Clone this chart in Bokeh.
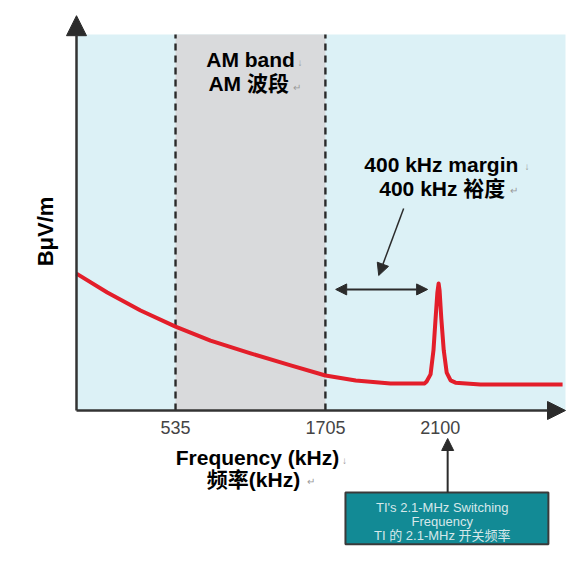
from bokeh.plotting import figure
from bokeh.models import Range1d, Label, Arrow, NormalHead
from bokeh.embed import file_html
from bokeh.resources import INLINE
from bokeh.core.properties import value

# ---- data (schematic units) ----
tick_khz = [535, 1705, 2100]
tick_pos = [20.25, 50.9, 74.4]
tick_labels = ["535", "1705", "2100"]

curve_x = [0, 6.3, 13.1, 20.25, 27.4, 35.6, 43.8, 50.9, 57.1, 64.2, 71.2,
           71.6, 72.4, 73.0, 73.4, 73.8, 74.05, 74.25, 74.6, 75.1, 75.7,
           76.5, 77.5, 82.6, 99.4]
curve_y = [36.4, 31.4, 26.6, 22.3, 18.6, 15.2, 12.0, 9.3, 8.0, 7.2, 7.2,
           7.7, 9.6, 16.0, 23.9, 31.4, 33.8, 31.9, 24.5, 16.0, 10.1,
           8.0, 7.4, 6.9, 6.9]

FONT = "Liberation Sans, Noto Sans CJK SC"
DARK = "#2b2b2b"

p = figure(width=570, height=546, output_backend="svg", toolbar_location=None,
           x_range=Range1d(-15.542, 101.02), y_range=Range1d(-36.17, 109.04),
           min_border_left=0, min_border_right=0, min_border_top=0,
           min_border_bottom=0)
p.xaxis.visible = False
p.yaxis.visible = False
p.background_fill_color = "white"
p.border_fill_color = "white"
p.outline_line_color = None
p.grid.grid_line_color = None

# plot area background and AM band
p.quad(left=[0], right=[100], bottom=[0], top=[100],
       fill_color="#dcf1f6", line_color=None)
p.quad(left=[tick_pos[0]], right=[tick_pos[1]], bottom=[0], top=[100],
       fill_color="#d9dadc", line_color=None)
p.segment(x0=tick_pos[:2], x1=tick_pos[:2], y0=[0, 0], y1=[100, 100],
          line_color="#2a2a2a", line_width=2.4, line_dash="7 5")

# emission curve
p.line(curve_x, curve_y, line_color="#e31e2a", line_width=4, line_join="round")

# tick labels on the frequency axis
p.text(x=tick_pos, y=[-4.5] * len(tick_pos), text=tick_labels,
       text_font=value("Liberation Sans"), text_font_size="18px",
       text_color="#444444", text_align="center", text_baseline="middle")

# axes with arrow heads
p.add_layout(Arrow(end=NormalHead(size=20, fill_color=DARK, line_color=DARK),
                   x_start=0, y_start=0, x_end=0, y_end=105.0,
                   line_width=2.5, line_color="#333333"))
p.add_layout(Arrow(end=NormalHead(size=18, fill_color=DARK, line_color=DARK),
                   x_start=0, y_start=0, x_end=100, y_end=0,
                   line_width=2.5, line_color="#333333"))

# margin double arrow
p.add_layout(Arrow(start=NormalHead(size=11, fill_color=DARK, line_color=DARK),
                   end=NormalHead(size=11, fill_color=DARK, line_color=DARK),
                   x_start=53.0, y_start=32.2, x_end=71.8, y_end=32.2,
                   line_width=2, line_color=DARK))
# pointer to margin
p.add_layout(Arrow(end=NormalHead(size=12, fill_color=DARK, line_color=DARK),
                   x_start=66.9, y_start=53.7, x_end=61.8, y_end=35.9,
                   line_width=1.5, line_color=DARK))

# texts
def lab(x, y, t, size="21px", bold=True, color="black", align="center", angle=0):
    p.add_layout(Label(x=x, y=y, text=t, text_font=FONT, text_font_size=size,
                       text_font_style="bold" if bold else "normal",
                       text_color=color, text_align=align,
                       text_baseline="middle", angle=angle))

lab(35.6, 93.4, "AM band")
lab(35.2, 87.0, "AM 波段")
lab(74.6, 65.4, "400 kHz margin")
lab(74.8, 59.0, "400 kHz 裕度")
lab(37.0, -12.5, "Frequency (kHz)")
lab(36.2, -18.4, "频率(kHz)")
lab(-6.3, 47.6, "BμV/m", size="22px", angle=1.5708)

# paragraph marks
mark = "#9a9a9a"
lab(45.2, 92.6, "↓", size="10px", bold=False, color=mark, align="left")
lab(44.2, 85.8, "↵", size="10px", bold=False, color=mark, align="left")
lab(91.6, 65.0, "↓", size="10px", bold=False, color=mark, align="left")
lab(88.6, 58.5, "↵", size="10px", bold=False, color=mark, align="left")
lab(54.3, -13.3, "↓", size="10px", bold=False, color=mark, align="left")
lab(47.1, -18.9, "↵", size="10px", bold=False, color=mark, align="left")

# switching frequency box
p.quad(left=[55.0], right=[96.5], top=[-21.8], bottom=[-35.6],
       fill_color="#128a95", line_color="#3a3a3a", line_width=2)
p.add_layout(Arrow(end=NormalHead(size=12, fill_color=DARK, line_color=DARK),
                   x_start=75.9, y_start=-21.8, x_end=75.9, y_end=-7.45,
                   line_width=2, line_color=DARK))
box_txt = "#d6e8ea"
lab(74.8, -25.8, "TI's 2.1-MHz Switching", size="13px", bold=False, color=box_txt)
lab(74.8, -29.4, "Frequency", size="13px", bold=False, color=box_txt)
lab(74.8, -33.3, "TI 的 2.1-MHz 开关频率", size="13px", bold=False, color=box_txt)

open("out.html", "w").write(file_html(p, INLINE))
